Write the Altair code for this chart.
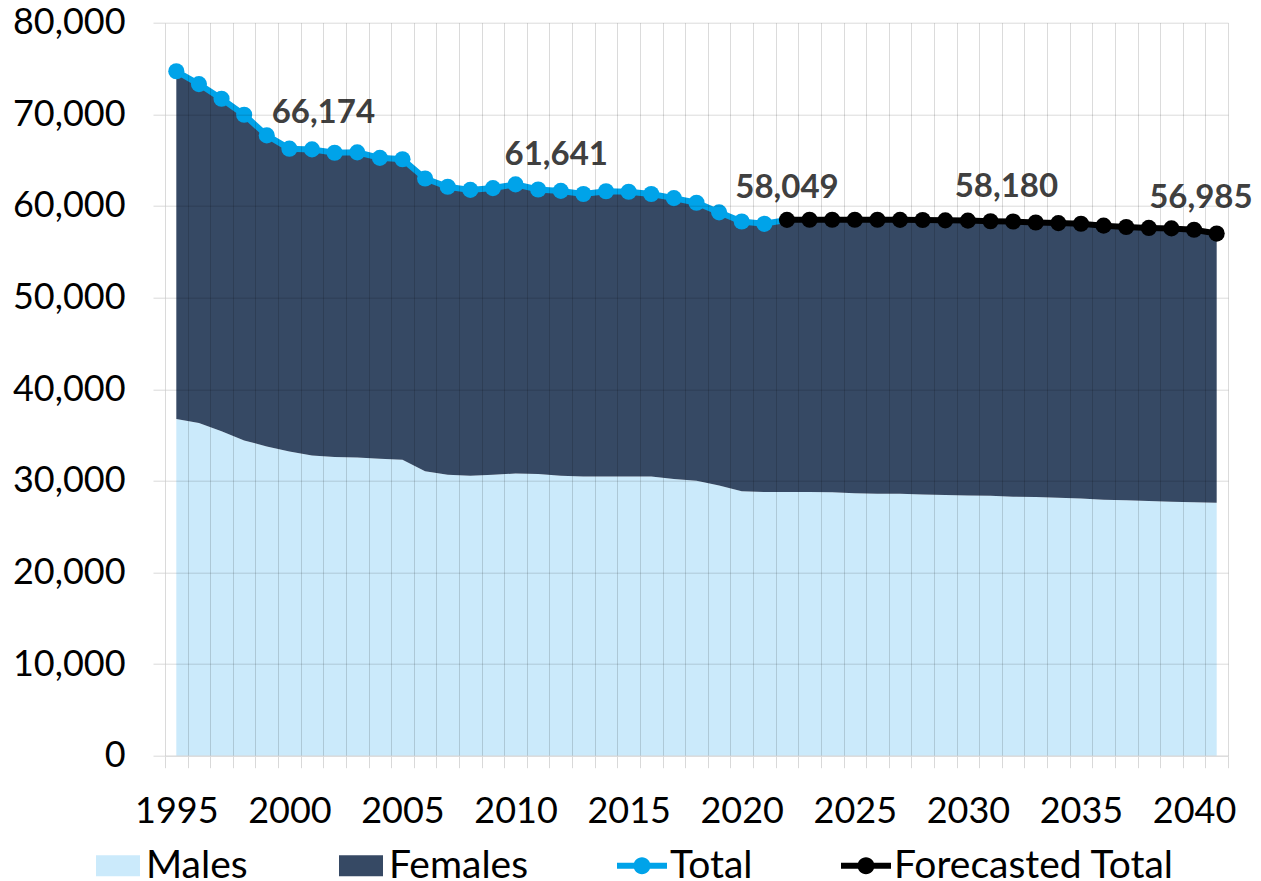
import altair as alt
import pandas as pd

# ---------------- data ----------------
years = list(range(1995, 2042))
obs_years = years[:27]          # 1995-2021
fc_years = years[27:]           # 2022-2041

total_obs = [74700, 73300, 71700, 69950, 67700, 66250, 66174, 65800, 65850, 65250,
             65100, 63000, 62100, 61750, 61950, 62350, 61800, 61641, 61300, 61600,
             61550, 61300, 60850, 60350, 59300, 58300, 58049]
total_fc = [58480, 58500, 58500, 58500, 58490, 58480, 58460, 58430, 58400, 58330,
            58300, 58200, 58130, 58060, 57850, 57700, 57600, 57550, 57400, 56985]
males = [36750, 36300, 35400, 34400, 33750, 33200, 32750, 32600, 32550, 32400,
         32300, 31050, 30650, 30550, 30650, 30800, 30750, 30550, 30480, 30480,
         30480, 30480, 30200, 30000, 29500, 28850, 28780, 28780, 28770, 28740,
         28630, 28600, 28580, 28520, 28450, 28410, 28380, 28270, 28230, 28160,
         28080, 27940, 27870, 27800, 27720, 27650, 27610]

series_names = ["Males", "Females", "Total", "Forecasted Total"]
series_colors = ["#CBEAFB", "#364964", "#00A3E9", "#000000"]

label_x = [2001.5, 2011.8, 2022.0, 2031.7, 2040.3]
label_values = [66174, 61641, 58049, 58180, 56985]

y_ticks = list(range(0, 80001, 10000))

# ---------------- tables ----------------
total_all = total_obs + total_fc
females = [t - m for t, m in zip(total_all, males)]

area_df = pd.DataFrame(
    {"year": years * 2,
     "value": males + females,
     "series": ["Males"] * len(years) + ["Females"] * len(years),
     "ord": [0] * len(years) + [1] * len(years)})

line_df = pd.DataFrame(
    {"year": obs_years + [fc_years[0]] + fc_years,
     "value": total_obs + [total_fc[0]] + total_fc,
     "series": ["Total"] * (len(obs_years) + 1) + ["Forecasted Total"] * len(fc_years)})

point_df = pd.DataFrame(
    {"year": obs_years + fc_years,
     "value": total_obs + total_fc,
     "series": ["Total"] * len(obs_years) + ["Forecasted Total"] * len(fc_years)})

label_df = pd.DataFrame({"year": label_x, "value": label_values,
                         "text": [f"{v:,}" for v in label_values]})

legend_df = pd.DataFrame({"series": series_names})

# ---------------- scales / axes ----------------
W, H = 1063, 733
step = W / len(years)
boundaries = [y - 0.5 for y in years] + [years[-1] + 0.5]

xs = alt.Scale(domain=[years[0] - 0.5, years[-1] + 0.5], nice=False, zero=False)
ys = alt.Scale(domain=[0, 80000], nice=False)

xaxis = alt.Axis(values=boundaries, title=None, grid=True, gridColor="#000000",
                 gridOpacity=0.15, domainColor="#D9D9D9", tickColor="#D9D9D9",
                 tickSize=12, labelFont="Lato", labelFontSize=36, labelColor="#000000",
                 labelPadding=27, labelOffset=step / 2, labelOverlap=False,
                 labelBound=False, labelFlush=False, zindex=1,
                 labelExpr="((datum.value + 0.5) % 5 == 0) ? format(datum.value + 0.5, 'd') : ''")
yaxis = alt.Axis(values=y_ticks, title=None, format=",.0f", grid=True, gridColor="#000000",
                 gridOpacity=0.15, domain=False, tickColor="#D9D9D9", tickSize=12,
                 labelFont="Lato", labelFontSize=36, labelColor="#000000",
                 labelPadding=28, zindex=1)

cs = alt.Scale(domain=series_names, range=series_colors)
sq = "M-0.88,-0.42H0.88V0.42H-0.88Z"
ln = "M-1,-0.12H1V0.12H-1Z M-0.34,0A0.34,0.34 0 1,1 0.34,0A0.34,0.34 0 1,1 -0.34,0Z"
shs = alt.Scale(domain=series_names, range=[sq, sq, ln, ln])

leg = alt.Legend(title=None, orient="none", legendX=-72, legendY=818,
                 direction="horizontal", columns=4, columnPadding=88,
                 labelFont="Lato", labelFontSize=39, labelColor="#000000",
                 labelOffset=3, symbolSize=2500, symbolStrokeWidth=0,
                 symbolOpacity=1, padding=0, labelLimit=500)

X = alt.X("year:Q", scale=xs, axis=xaxis)

area = alt.Chart(area_df).mark_area(opacity=1).encode(
    x=X,
    y=alt.Y("value:Q", stack="zero", scale=ys, axis=yaxis),
    color=alt.Color("series:N", scale=cs, legend=leg),
    order=alt.Order("ord:Q"),
)

lines = alt.Chart(line_df).mark_line(strokeWidth=6).encode(
    x=X,
    y=alt.Y("value:Q", scale=ys, axis=yaxis),
    color=alt.Color("series:N", scale=cs, legend=leg),
)

points = alt.Chart(point_df).mark_circle(size=260, opacity=1).encode(
    x=X,
    y=alt.Y("value:Q", scale=ys, axis=yaxis),
    color=alt.Color("series:N", scale=cs, legend=leg),
)

labels = alt.Chart(label_df).mark_text(
    font="Lato", fontSize=33, fontWeight="bold", color="#404040",
    dy=-36, baseline="middle", align="center").encode(
    x=X,
    y=alt.Y("value:Q", scale=ys, axis=yaxis),
    text="text:N",
)

legend_layer = alt.Chart(legend_df).mark_point(filled=True, opacity=1).encode(
    color=alt.Color("series:N", scale=cs, legend=leg),
    shape=alt.Shape("series:N", scale=shs, legend=leg),
).transform_filter("false")

chart = alt.layer(area, lines, points, labels, legend_layer).properties(
    width=W, height=H,
    autosize=alt.AutoSizeParams(type="none"),
    padding={"left": 157, "top": 14.7, "right": 25, "bottom": 125},
    background="white",
).configure_view(stroke=None)

chart.save("out.html", embed_options={"renderer": "svg", "actions": False})
